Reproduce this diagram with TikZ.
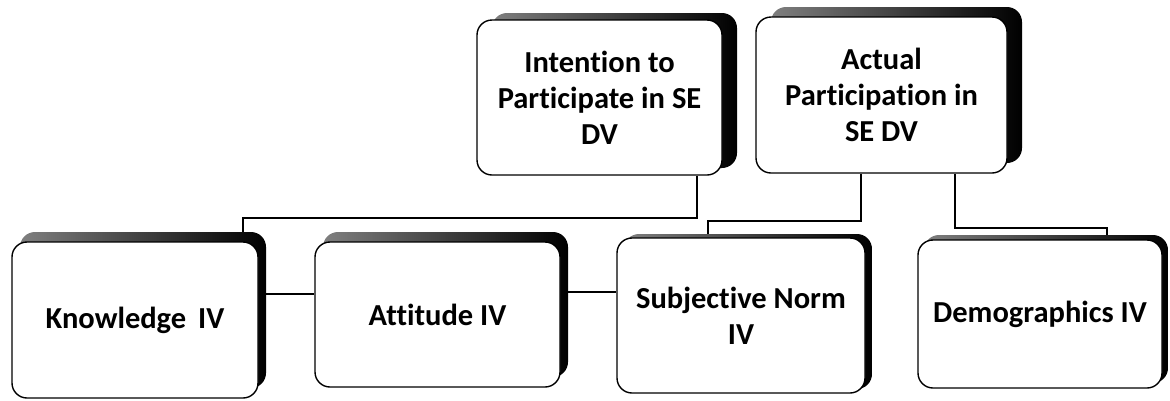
\documentclass[tikz,border=0pt]{standalone}
\usepackage{fontspec}
\setmainfont[Ligatures=NoCommon]{Carlito}
\usetikzlibrary{shadows,backgrounds}
\begin{document}
\begin{tikzpicture}[x=1pt,y=-1pt,
  box/.style 2 args={draw=black, line width=1.4pt, fill=white, rounded corners=15pt,
    inner sep=0pt, align=center, font=\fontsize{30.5}{36}\selectfont\bfseries,
    general shadow={shading=axis, left color=black!50, right color=black, shading angle=90,
      shadow xshift=#1pt, shadow yshift=#2pt}},
  conn/.style={draw=black, line width=1.4pt}]
\useasboundingbox (0,0) rectangle (1170,400);
\coordinate (j1) at (697,218);
\coordinate (j2) at (243,218);
\coordinate (a1) at (861,221);
\coordinate (a2) at (708,221);
\coordinate (d1) at (955,228);
\coordinate (d2) at (1107,228);
% boxes
\node[box={15}{7}, minimum width=245pt, minimum height=155pt] (int) at (599.5,97.5) {Intention to\\Participate in SE\\DV};
\node[box={15}{10}, minimum width=251pt, minimum height=156pt] (act) at (881.5,95) {Actual\\Participation in\\SE DV};
\node[box={8}{10}, minimum width=246pt, minimum height=156pt] (know) at (135,320) {Knowledge\, IV};
\node[box={8}{10}, minimum width=245pt, minimum height=145pt] (att) at (437.5,314.5) {Attitude IV};
\node[box={7}{4}, minimum width=248pt, minimum height=155pt] (subj) at (741,315.5) {Subjective Norm\\IV};
\node[box={6}{5}, minimum width=244pt, minimum height=148pt] (demo) at (1040,314) {Demographics IV};
\begin{scope}[on background layer]
\draw[conn] (int.south -| j1) -- (j1) -- (j2) -- (j2 |- know.north);
\draw[conn] (know.east |- 0,294) -- (att.west |- 0,294);
\draw[conn] (att.east |- 0,292) -- (subj.west |- 0,292);
\draw[conn] (act.south -| a1) -- (a1) -- (a2) -- (a2 |- subj.north);
\draw[conn] (act.south -| d1) -- (d1) -- (d2) -- (d2 |- demo.north);
\end{scope}
\end{tikzpicture}
\end{document}
